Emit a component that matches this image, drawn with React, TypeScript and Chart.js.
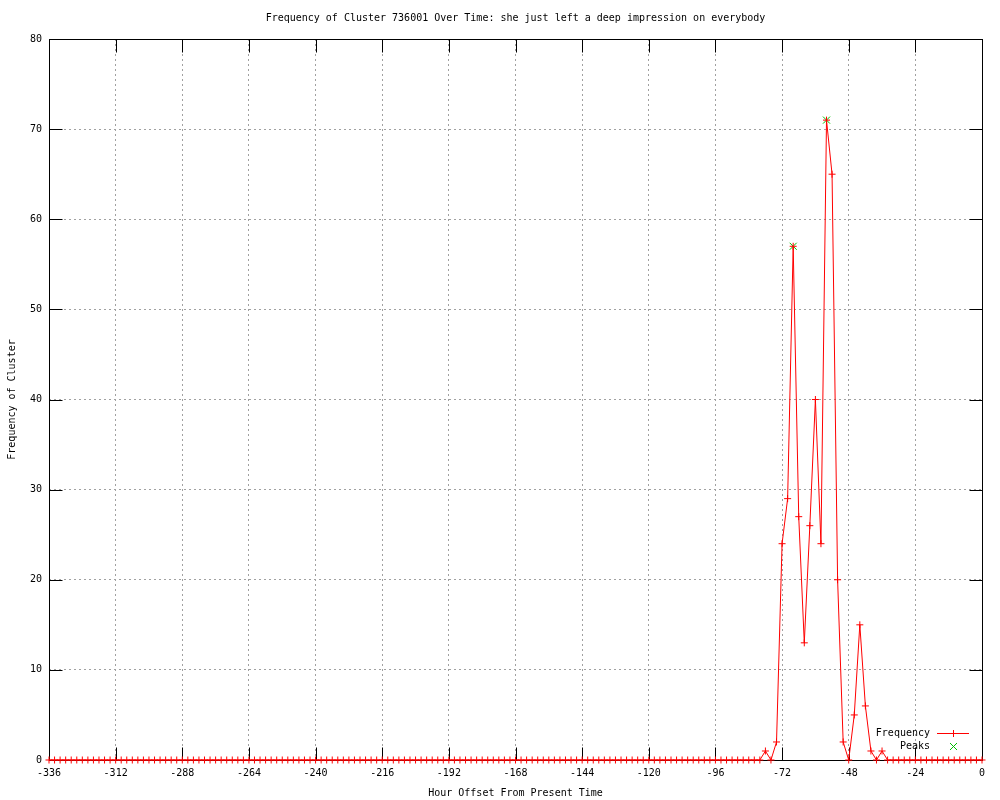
import { useEffect, useRef } from 'react';
import { Chart, registerables } from 'chart.js';

Chart.register(...registerables);

const TITLE = 'Frequency of Cluster 736001 Over Time: she just left a deep impression on everybody';
const X_TITLE = 'Hour Offset From Present Time';
const Y_TITLE = 'Frequency of Cluster';
const FREQ_LABEL = 'Frequency';
const PEAK_LABEL = 'Peaks';

const hours = [
  -336, -334, -332, -330, -328, -326, -324, -322, -320, -318, -316, -314,
  -312, -310, -308, -306, -304, -302, -300, -298, -296, -294, -292, -290,
  -288, -286, -284, -282, -280, -278, -276, -274, -272, -270, -268, -266,
  -264, -262, -260, -258, -256, -254, -252, -250, -248, -246, -244, -242,
  -240, -238, -236, -234, -232, -230, -228, -226, -224, -222, -220, -218,
  -216, -214, -212, -210, -208, -206, -204, -202, -200, -198, -196, -194,
  -192, -190, -188, -186, -184, -182, -180, -178, -176, -174, -172, -170,
  -168, -166, -164, -162, -160, -158, -156, -154, -152, -150, -148, -146,
  -144, -142, -140, -138, -136, -134, -132, -130, -128, -126, -124, -122,
  -120, -118, -116, -114, -112, -110, -108, -106, -104, -102, -100, -98,
  -96, -94, -92, -90, -88, -86, -84, -82, -80, -78, -76, -74,
  -72, -70, -68, -66, -64, -62, -60, -58, -56, -54, -52, -50,
  -48, -46, -44, -42, -40, -38, -36, -34, -32, -30, -28, -26,
  -24, -22, -20, -18, -16, -14, -12, -10, -8, -6, -4, -2,
  0,
];

const frequency = [
  0, 0, 0, 0, 0, 0, 0, 0, 0, 0, 0, 0,
  0, 0, 0, 0, 0, 0, 0, 0, 0, 0, 0, 0,
  0, 0, 0, 0, 0, 0, 0, 0, 0, 0, 0, 0,
  0, 0, 0, 0, 0, 0, 0, 0, 0, 0, 0, 0,
  0, 0, 0, 0, 0, 0, 0, 0, 0, 0, 0, 0,
  0, 0, 0, 0, 0, 0, 0, 0, 0, 0, 0, 0,
  0, 0, 0, 0, 0, 0, 0, 0, 0, 0, 0, 0,
  0, 0, 0, 0, 0, 0, 0, 0, 0, 0, 0, 0,
  0, 0, 0, 0, 0, 0, 0, 0, 0, 0, 0, 0,
  0, 0, 0, 0, 0, 0, 0, 0, 0, 0, 0, 0,
  0, 0, 0, 0, 0, 0, 0, 0, 0, 1, 0, 2,
  24, 29, 57, 27, 13, 26, 40, 24, 71, 65, 20, 2,
  0, 5, 15, 6, 1, 0, 1, 0, 0, 0, 0, 0,
  0, 0, 0, 0, 0, 0, 0, 0, 0, 0, 0, 0,
  0,
];

const peakHours = [-68, -56];
const peakValues = [57, 71];

const xTicks = [-336, -312, -288, -264, -240, -216, -192, -168, -144, -120, -96, -72, -48, -24, 0];
const yTicks = [0, 10, 20, 30, 40, 50, 60, 70, 80];

const FONT = '"DejaVu Sans Mono", monospace';
const RED = '#ff0000';
const GREEN = '#00c000';
const TICK_LEN = 13;

function drawPlus(ctx: CanvasRenderingContext2D, x: number, y: number, r: number) {
  ctx.beginPath();
  ctx.moveTo(x - r, y);
  ctx.lineTo(x + r, y);
  ctx.moveTo(x, y - r);
  ctx.lineTo(x, y + r);
  ctx.stroke();
}

function drawX(ctx: CanvasRenderingContext2D, x: number, y: number, r: number) {
  ctx.beginPath();
  ctx.moveTo(x - r, y - r);
  ctx.lineTo(x + r, y + r);
  ctx.moveTo(x - r, y + r);
  ctx.lineTo(x + r, y - r);
  ctx.stroke();
}

const framePlugin = {
  id: 'gnuframe',
  beforeDatasetsDraw(chart: any) {
    const { ctx, chartArea } = chart;
    const xs = chart.scales.x;
    const ys = chart.scales.y;
    const l = Math.round(chartArea.left) + 0.5;
    const r = Math.round(chartArea.right) + 0.5;
    const t = Math.round(chartArea.top) + 0.5;
    const b = Math.round(chartArea.bottom) + 0.5;
    ctx.save();
    ctx.strokeStyle = '#000000';
    ctx.lineWidth = 1;
    ctx.setLineDash([]);
    ctx.beginPath();
    xs.ticks.forEach((tk: any) => {
      const px = Math.round(xs.getPixelForValue(tk.value)) + 0.5;
      ctx.moveTo(px, b);
      ctx.lineTo(px, b - TICK_LEN);
      ctx.moveTo(px, t);
      ctx.lineTo(px, t + TICK_LEN);
    });
    ys.ticks.forEach((tk: any) => {
      const py = Math.round(ys.getPixelForValue(tk.value)) + 0.5;
      ctx.moveTo(l, py);
      ctx.lineTo(l + TICK_LEN, py);
      ctx.moveTo(r, py);
      ctx.lineTo(r - TICK_LEN, py);
    });
    ctx.stroke();
    ctx.strokeRect(l, t, r - l, b - t);
    ctx.restore();
  },
  afterDraw(chart: any) {
    const { ctx, chartArea } = chart;
    ctx.save();
    ctx.font = `10px ${FONT}`;
    ctx.fillStyle = '#000000';
    ctx.textBaseline = 'middle';
    ctx.textAlign = 'center';
    ctx.fillText(TITLE, (chartArea.left + chartArea.right) / 2, 18);

    // legend
    const textRight = chartArea.right - 52;
    const sampleL = chartArea.right - 45;
    const sampleR = chartArea.right - 13;
    const sampleC = (sampleL + sampleR) / 2;
    const y1 = chartArea.bottom - 27;
    const y2 = chartArea.bottom - 14;
    ctx.textAlign = 'right';
    ctx.fillText(FREQ_LABEL, textRight, y1);
    ctx.fillText(PEAK_LABEL, textRight, y2);
    ctx.lineWidth = 1;
    ctx.strokeStyle = RED;
    ctx.beginPath();
    ctx.moveTo(sampleL, Math.round(y1) + 0.5);
    ctx.lineTo(sampleR, Math.round(y1) + 0.5);
    ctx.stroke();
    drawPlus(ctx, Math.round(sampleC) + 0.5, Math.round(y1) + 0.5, 3.5);
    ctx.strokeStyle = GREEN;
    drawX(ctx, Math.round(sampleC) + 0.5, Math.round(y2) + 0.5, 3.5);
    ctx.restore();
  },
};

export default function App() {
  const ref = useRef<HTMLCanvasElement | null>(null);

  useEffect(() => {
    if (!ref.current) return;
    const chart = new Chart(ref.current, {
      type: 'line',
      data: {
        datasets: [
          {
            label: FREQ_LABEL,
            data: hours.map((h, i) => ({ x: h, y: frequency[i] })),
            borderColor: RED,
            backgroundColor: RED,
            borderWidth: 1,
            pointStyle: 'cross',
            pointRadius: 3.5,
            pointBorderWidth: 1,
            pointBorderColor: RED,
            tension: 0,
            fill: false,
            clip: false as any,
          },
          {
            label: PEAK_LABEL,
            data: peakHours.map((h, i) => ({ x: h, y: peakValues[i] })),
            showLine: false,
            borderColor: GREEN,
            backgroundColor: GREEN,
            pointStyle: 'crossRot',
            pointRadius: 5,
            pointBorderWidth: 1,
            pointBorderColor: GREEN,
            clip: false as any,
          },
        ],
      },
      options: {
        animation: false,
        responsive: false,
        devicePixelRatio: 1,
        layout: { padding: { left: 0, right: 18, top: 39, bottom: 0 } },
        plugins: {
          legend: { display: false },
          title: { display: false },
          tooltip: { enabled: false },
        },
        scales: {
          x: {
            type: 'linear',
            min: -336,
            max: 0,
            afterBuildTicks: (s: any) => {
              s.ticks = xTicks.map((v) => ({ value: v }));
            },
            afterFit: (s: any) => {
              s.height = 40;
            },
            ticks: {
              font: { family: FONT, size: 10 },
              color: '#000000',
              padding: 7,
              maxRotation: 0,
              autoSkip: false,
              callback: (v: any) => String(v),
            },
            grid: {
              color: '#a0a0a0',
              lineWidth: 1,
              drawTicks: false,
            },
            border: { display: false, dash: [2, 3] },
            title: {
              display: true,
              text: X_TITLE,
              font: { family: FONT, size: 10 },
              color: '#000000',
              padding: { top: 0, bottom: 1 },
            },
          },
          y: {
            type: 'linear',
            min: 0,
            max: 80,
            afterBuildTicks: (s: any) => {
              s.ticks = yTicks.map((v) => ({ value: v }));
            },
            afterFit: (s: any) => {
              s.width = 49;
            },
            ticks: {
              font: { family: FONT, size: 10 },
              color: '#000000',
              padding: 7,
              autoSkip: false,
              callback: (v: any) => String(v),
            },
            grid: {
              color: '#a0a0a0',
              lineWidth: 1,
              drawTicks: false,
            },
            border: { display: false, dash: [2, 3] },
            title: {
              display: true,
              text: Y_TITLE,
              font: { family: FONT, size: 10 },
              color: '#000000',
              padding: { top: 6.5, bottom: 0 },
            },
          },
        },
      },
      plugins: [framePlugin],
    });
    return () => chart.destroy();
  }, []);

  return (
    <div style={{ position: 'fixed', left: 0, top: 0, width: 1000, height: 800, background: '#ffffff' }}>
      <canvas ref={ref} width={1000} height={800} style={{ display: 'block' }} />
    </div>
  );
}
